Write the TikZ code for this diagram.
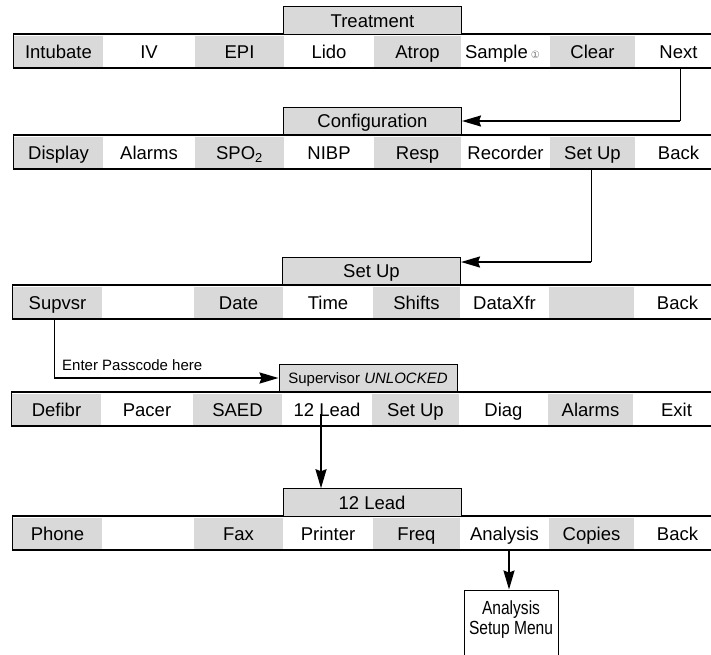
\documentclass[tikz,border=0pt]{standalone}
\usepackage{fontspec}
\setmainfont{Liberation Sans}
\newfontfamily\narrowfont[FakeStretch=0.82]{Liberation Sans}
\newfontfamily\symfont{DejaVu Sans}
\usetikzlibrary{arrows.meta}

\definecolor{menugray}{gray}{0.85}
\definecolor{icongray}{gray}{0.45}

\newcommand\cellfont{\fontsize{18.5}{22}\selectfont}
\newcommand\smallfont{\fontsize{15}{18}\selectfont}
% left edges of the eight soft-key cells (plus the right edge of the last one)
\def\cellbounds{{14,103,195,284,374,461,550,635,722}}

% #1 row name, #2 top of the bar, #3 horizontal shift, #4 the eight key labels
\newcommand\menurow[4]{%
  \foreach \lab [count=\i] in {#4} {
    \pgfmathsetmacro\xl{\cellbounds[\i-1]+#3}
    \pgfmathsetmacro\xr{\cellbounds[\i]+#3}
    \ifodd\i\def\cellfill{menugray}\else\def\cellfill{white}\fi
    \node[cellbox, fill=\cellfill, minimum width={\xr-\xl}] (#1-\i)
      at ({(\xl+\xr)/2},{#2+17.5}) {\lab};
  }
  \draw[barline] ({13.3+#3},#2) rectangle (730,{#2+34});
}

\begin{document}
\begin{tikzpicture}[x=1pt,y=-1pt,
  cellbox/.style={inner sep=0pt, minimum height=31pt, text height=13.2pt,
    text depth=0pt, font=\cellfont},
  barline/.style={draw=black, line width=1.3pt},
  tabbox/.style={draw=black, fill=menugray, line width=1pt, inner sep=0pt,
    minimum width=178pt, minimum height=27.5pt, text height=13.2pt,
    text depth=0pt, font=\cellfont},
  thinline/.style={draw=black, line width=1pt},
  arrowline/.style={draw=black, line width=1.9pt,
    -{Stealth[length=19pt,width=11pt,inset=2pt]}},
  passlabel/.style={font=\smallfont, inner sep=0pt},
  anabox/.style={draw=black, line width=1pt, minimum width=94pt,
    minimum height=70pt, inner sep=0pt},
  anatext/.style={align=center, inner sep=0pt,
    font=\narrowfont\fontsize{19}{20}\selectfont}]

\path[use as bounding box, fill=white] (0,0) rectangle (711,654);

% soft-key bars
\menurow{r1}{34}{0}{Intubate, IV, EPI, Lido, Atrop,
  {\hspace*{-6pt}Sample\,{\symfont\fontsize{10}{10}\selectfont\color{icongray}①}},
  Clear, Next}
\menurow{r2}{135}{0}{Display, Alarms, {SPO\textsubscript{2}}, NIBP, Resp,
  Recorder, Set Up, Back}
\menurow{r3}{285}{-1}{Supvsr, {}, Date, Time, Shifts, DataXfr, {}, Back}
\menurow{r4}{392}{-2}{Defibr, Pacer, SAED, 12 Lead, Set Up, Diag, Alarms, Exit}
\menurow{r5}{516}{-1}{Phone, {}, Fax, Printer, Freq, Analysis, Copies, Back}

% menu title tabs
\node[tabbox] (treat) at (372.5,20.5) {Treatment};
\node[tabbox] (conf) at (372.5,121) {Configuration};
\node[tabbox] (setup) at (371.5,271) {Set Up};
\node[tabbox, font=\smallfont, text height=10.7pt] (sup) at (368,378)
  {Supervisor \textit{UNLOCKED}};
\node[tabbox] (lead) at (372,502.5) {12 Lead};

% analysis setup box
\node[anabox] (ana) at (511,625) {};
\node[anatext] (anatxt) at (511,620) {Analysis\\Setup Menu};

% Next -> Configuration
\coordinate (nexttop) at ([xshift=1.5pt]r1-8.south);
\coordinate (k1) at (nexttop |- conf.east);
\draw[thinline] (nexttop) -- (k1);
\draw[arrowline] (k1) -- (conf.east);

% Set Up -> Set Up menu
\coordinate (setupbot) at ([xshift=-1.5pt]r2-7.south);
\coordinate (setupin) at ([yshift=9pt]setup.east);
\coordinate (k2) at (setupbot |- setupin);
\draw[thinline] (setupbot) -- (k2);
\draw[arrowline] (k2) -- (setupin);

% Supvsr -> Supervisor menu
\coordinate (supbot) at ([xshift=-3.5pt]r3-1.south);
\coordinate (k3) at (supbot |- sup.west);
\draw[thinline] (supbot) -- (k3);
\draw[arrowline] (k3) -- (sup.west);
\node[passlabel, anchor=base west] (pass) at ([xshift=8pt,yshift=8pt]k3)
  {Enter Passcode here};

% 12 Lead -> 12 Lead menu
\coordinate (leadstart) at ([xshift=-6pt,yshift=-4pt]r4-4.center);
\draw[arrowline] (leadstart) -- (leadstart |- lead.north);

% Analysis -> Analysis Setup Menu
\coordinate (anastart) at ([xshift=4.5pt]r5-6.south);
\draw[arrowline] (anastart) -- (anastart |- ana.north);

\end{tikzpicture}
\end{document}
